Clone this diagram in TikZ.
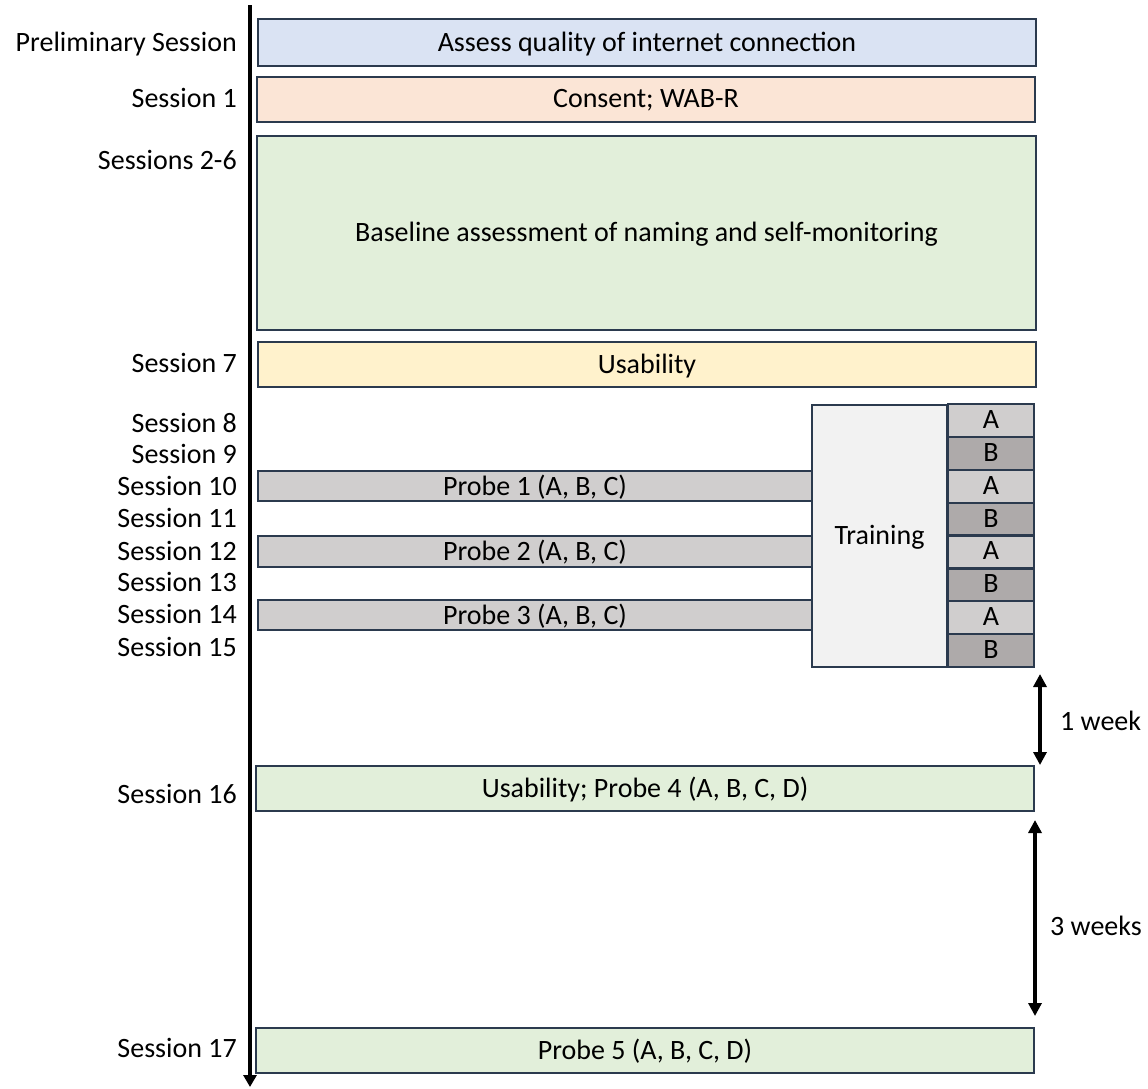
\documentclass[tikz,border=0pt]{standalone}
\usepackage{fontspec}
\setmainfont{Carlito}
\usetikzlibrary{arrows.meta}
\definecolor{edge}{HTML}{2B3A4E}
\definecolor{fblue}{HTML}{DAE3F3}
\definecolor{fpeach}{HTML}{FBE5D6}
\definecolor{fgreen}{HTML}{E2EFDA}
\definecolor{fyellow}{HTML}{FFF2CC}
\definecolor{flight}{HTML}{F2F2F2}
\definecolor{fgrayA}{HTML}{D0CECE}
\definecolor{fgrayB}{HTML}{AEAAAA}
\tikzset{
  box/.style={draw=edge, line width=2pt, inner sep=0pt, anchor=north west,
    font=\fontsize{28}{34}\selectfont, align=center, text depth=2pt},
  lbl/.style={anchor=east, inner sep=0pt, font=\fontsize{28}{34}\selectfont},
  gap/.style={line width=3.5pt, {Triangle[length=13pt,width=13pt]}-{Triangle[length=13pt,width=13pt]}},
}
\begin{document}
\begin{tikzpicture}[x=1pt,y=-1pt]
\useasboundingbox (0,0) rectangle (1148,1088);

% time axis
\coordinate (axtop) at (250,5);
\coordinate (axbot) at (250,1087);
\draw[line width=3.5pt, -{Triangle[length=12pt,width=13pt]}] (axtop) -- (axbot);

% session boxes
\node[box, fill=fblue, minimum width=778pt, minimum height=47pt] (pre) at (257,18) {Assess quality of internet connection};
\node[box, fill=fpeach, minimum width=778pt, minimum height=45pt] (s1) at (256,76) {Consent; WAB-R};
\node[box, fill=fgreen, minimum width=779pt, minimum height=194pt] (base) at (256,135) {Baseline assessment of naming and self-monitoring};
\node[box, fill=fyellow, minimum width=778pt, minimum height=45pt] (s7) at (257,341) {Usability};

% training block
\node[box, fill=flight, minimum width=135pt, minimum height=262pt] (train) at (811,404) {Training};
\foreach \i/\t/\c in {0/A/fgrayA,1/B/fgrayB,2/A/fgrayA,3/B/fgrayB,4/A/fgrayA,5/B/fgrayB,6/A/fgrayA,7/B/fgrayB}{
  \node[box, fill=\c, minimum width=86pt, minimum height=32.7pt] (c\i) at (947,{403+\i*32.9}) {\t};
}

% probes
\node[box, fill=fgrayA, minimum width=554pt, minimum height=30pt] (p1) at (257,470) {Probe 1 (A, B, C)};
\node[box, fill=fgrayA, minimum width=554pt, minimum height=31pt] (p2) at (257,535) {Probe 2 (A, B, C)};
\node[box, fill=fgrayA, minimum width=554pt, minimum height=30pt] (p3) at (257,599) {Probe 3 (A, B, C)};

\node[box, fill=fgreen, minimum width=778pt, minimum height=45pt] (s16) at (255,765) {Usability; Probe 4 (A, B, C, D)};
\node[box, fill=fgreen, minimum width=778pt, minimum height=45pt] (s17) at (255,1027) {Probe 5 (A, B, C, D)};

% session labels
\node[lbl] (l0) at (237,44) {Preliminary Session};
\node[lbl] (l1) at (237,98) {Session 1};
\node[lbl] (l2) at (237,160) {Sessions 2-6};
\node[lbl] (l7) at (237,363) {Session 7};
\node[lbl] (l8) at (237,423) {Session 8};
\node[lbl] (l9) at (237,454) {Session 9};
\node[lbl] (l10) at (237,486) {Session 10};
\node[lbl] (l11) at (237,518) {Session 11};
\node[lbl] (l12) at (237,551) {Session 12};
\node[lbl] (l13) at (237,582) {Session 13};
\node[lbl] (l14) at (237,614) {Session 14};
\node[lbl] (l15) at (237,647) {Session 15};
\node[lbl] (l16) at (237,794) {Session 16};
\node[lbl] (l17) at (237,1048) {Session 17};

% gaps between sessions
\coordinate (w1a) at (1040,674);
\coordinate (w1b) at (1040,765);
\draw[gap] (w1a) -- (w1b);
\node[font=\fontsize{28}{34}\selectfont, anchor=west, inner sep=0pt] (w1) at (1060,721) {1 week};
\coordinate (w3a) at (1035,820);
\coordinate (w3b) at (1035,1016);
\draw[gap] (w3a) -- (w3b);
\node[font=\fontsize{28}{34}\selectfont, anchor=west, inner sep=0pt] (w3) at (1050,926) {3 weeks};
\end{tikzpicture}
\end{document}
